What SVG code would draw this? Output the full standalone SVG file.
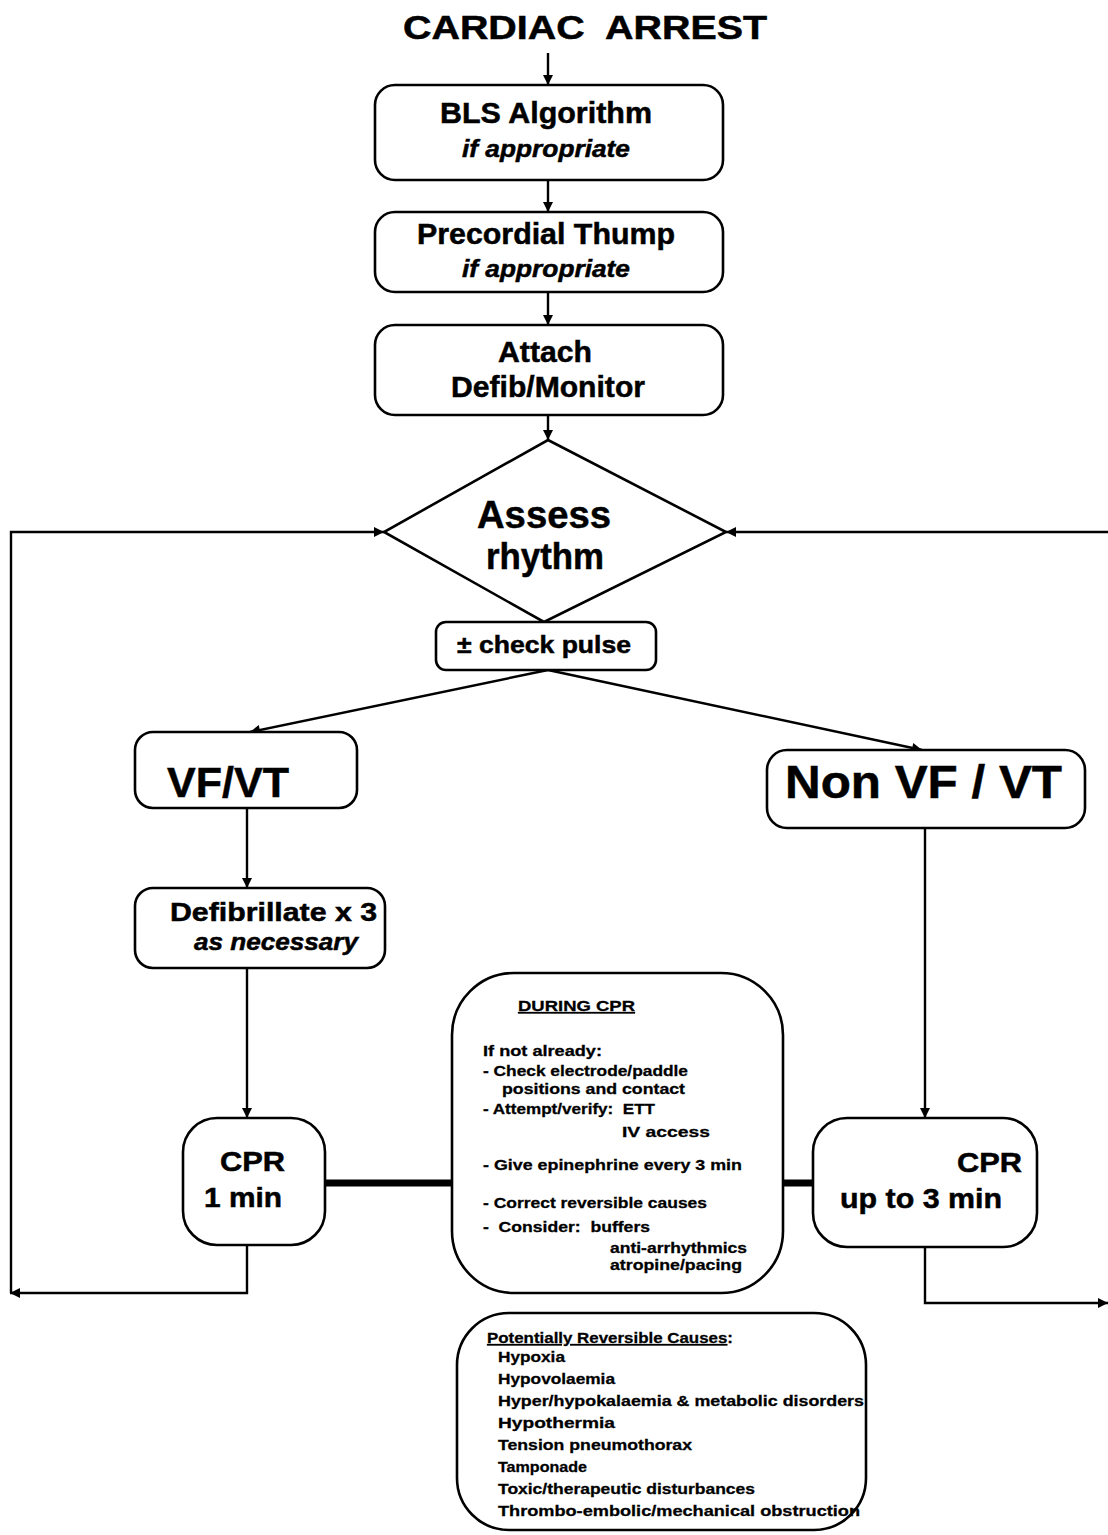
<svg xmlns="http://www.w3.org/2000/svg" width="1108" height="1535" viewBox="0 0 1108 1535" xml:space="preserve">
<style>
text { font-family: "Liberation Sans", Arial, sans-serif; font-weight: bold; fill: #000; stroke: #000; stroke-width: 0.5; white-space: pre; }
.it { font-style: italic; }
.box { fill: #fff; stroke: #000; stroke-width: 2.6; }
.ln { fill: none; stroke: #000; stroke-width: 2.4; }
.thick { fill: none; stroke: #000; stroke-width: 7; stroke-linecap: round; }
.s15 { font-size: 15.5px; stroke-width: 0.3; }
</style>
<defs>
<marker id="ah" viewBox="0 0 10 10" refX="10" refY="5" markerWidth="11" markerHeight="10" markerUnits="userSpaceOnUse" orient="auto">
<path d="M0,0 L10,5 L0,10 z" fill="#000"/>
</marker>
</defs>
<rect width="1108" height="1535" fill="#fff"/>

<g id="title"><text x="403" y="39" font-size="33" textLength="364" lengthAdjust="spacingAndGlyphs">CARDIAC  ARREST</text></g>

<g id="connectors">
<line class="ln" x1="548" y1="53" x2="548" y2="85" marker-end="url(#ah)"/>
<line class="ln" x1="548" y1="180" x2="548" y2="212" marker-end="url(#ah)"/>
<line class="ln" x1="548" y1="292" x2="548" y2="325" marker-end="url(#ah)"/>
<line class="ln" x1="548" y1="415" x2="548" y2="440" marker-end="url(#ah)"/>
<line class="ln" x1="548" y1="670" x2="250" y2="732" marker-end="url(#ah)"/>
<line class="ln" x1="548" y1="670" x2="922" y2="750" marker-end="url(#ah)"/>
<line class="ln" x1="247" y1="808" x2="247" y2="888" marker-end="url(#ah)"/>
<line class="ln" x1="247" y1="968" x2="247" y2="1118" marker-end="url(#ah)"/>
<line class="ln" x1="925" y1="828" x2="925" y2="1118" marker-end="url(#ah)"/>
<path class="ln" d="M247,1245 V1293 H10" marker-end="url(#ah)"/>
<path class="ln" d="M11,1293 V532 H384" marker-end="url(#ah)"/>
<path class="ln" d="M925,1247 V1303 H1108" marker-end="url(#ah)"/>
<line class="ln" x1="1108" y1="532" x2="726" y2="532" marker-end="url(#ah)"/>
<line class="thick" x1="324" y1="1183" x2="452" y2="1183"/>
<line class="thick" x1="781" y1="1183" x2="815" y2="1183"/>
</g>

<g id="bls">
<rect class="box" x="375" y="85" width="348" height="95" rx="20"/>
<text x="440" y="123" font-size="29" textLength="212" lengthAdjust="spacingAndGlyphs">BLS Algorithm</text>
<text class="it" x="462" y="157" font-size="24" textLength="168" lengthAdjust="spacingAndGlyphs">if appropriate</text>
</g>

<g id="thump">
<rect class="box" x="375" y="212" width="348" height="80" rx="20"/>
<text x="417" y="244" font-size="29" textLength="258" lengthAdjust="spacingAndGlyphs">Precordial Thump</text>
<text class="it" x="462" y="277" font-size="24" textLength="168" lengthAdjust="spacingAndGlyphs">if appropriate</text>
</g>

<g id="attach">
<rect class="box" x="375" y="325" width="348" height="90" rx="20"/>
<text x="498" y="362" font-size="30" textLength="94" lengthAdjust="spacingAndGlyphs">Attach</text>
<text x="451" y="397" font-size="30" textLength="194" lengthAdjust="spacingAndGlyphs">Defib/Monitor</text>
</g>

<g id="assess">
<polygon class="box" points="548,440 726,532 544,622 384,532"/>
<text x="477" y="528" font-size="39" textLength="134" lengthAdjust="spacingAndGlyphs">Assess</text>
<text x="486" y="569" font-size="37" textLength="118" lengthAdjust="spacingAndGlyphs">rhythm</text>
</g>

<g id="pulse">
<rect class="box" x="436" y="622" width="220" height="48" rx="10"/>
<text x="457" y="653" font-size="24" textLength="174" lengthAdjust="spacingAndGlyphs">± check pulse</text>
</g>

<g id="vfvt">
<rect class="box" x="135" y="732" width="222" height="76" rx="18"/>
<text x="167" y="797" font-size="43" textLength="122" lengthAdjust="spacingAndGlyphs">VF/VT</text>
</g>

<g id="nonvfvt">
<rect class="box" x="767" y="750" width="318" height="78" rx="20"/>
<text x="785" y="798" font-size="46" textLength="277" lengthAdjust="spacingAndGlyphs">Non VF / VT</text>
</g>

<g id="defib">
<rect class="box" x="135" y="888" width="250" height="80" rx="18"/>
<text x="170" y="921" font-size="26" textLength="207" lengthAdjust="spacingAndGlyphs">Defibrillate x 3</text>
<text class="it" x="194" y="950" font-size="24" textLength="164" lengthAdjust="spacingAndGlyphs">as necessary</text>
</g>

<g id="cpr1">
<rect class="box" x="183" y="1118" width="142" height="127" rx="34"/>
<text x="220" y="1171" font-size="28" textLength="65" lengthAdjust="spacingAndGlyphs">CPR</text>
<text x="204" y="1207" font-size="28" textLength="78" lengthAdjust="spacingAndGlyphs">1 min</text>
</g>

<g id="during">
<rect class="box" x="452" y="973" width="331" height="320" rx="62"/>
<text class="s15" x="518" y="1011" textLength="117" lengthAdjust="spacingAndGlyphs" text-decoration="underline">DURING CPR</text>
<text class="s15" x="483" y="1056" textLength="119" lengthAdjust="spacingAndGlyphs">If not already:</text>
<text class="s15" x="483" y="1076" textLength="205" lengthAdjust="spacingAndGlyphs">- Check electrode/paddle</text>
<text class="s15" x="502" y="1094" textLength="183" lengthAdjust="spacingAndGlyphs">positions and contact</text>
<text class="s15" x="483" y="1114" textLength="172" lengthAdjust="spacingAndGlyphs">- Attempt/verify:  ETT</text>
<text class="s15" x="622" y="1137" textLength="88" lengthAdjust="spacingAndGlyphs">IV access</text>
<text class="s15" x="483" y="1170" textLength="259" lengthAdjust="spacingAndGlyphs">- Give epinephrine every 3 min</text>
<text class="s15" x="483" y="1208" textLength="224" lengthAdjust="spacingAndGlyphs">- Correct reversible causes</text>
<text class="s15" x="483" y="1232" textLength="167" lengthAdjust="spacingAndGlyphs">-  Consider:  buffers</text>
<text class="s15" x="610" y="1253" textLength="137" lengthAdjust="spacingAndGlyphs">anti-arrhythmics</text>
<text class="s15" x="610" y="1270" textLength="132" lengthAdjust="spacingAndGlyphs">atropine/pacing</text>
</g>

<g id="cpr3">
<rect class="box" x="813" y="1118" width="224" height="129" rx="34"/>
<text x="957" y="1172" font-size="28" textLength="65" lengthAdjust="spacingAndGlyphs">CPR</text>
<text x="840" y="1208" font-size="28" textLength="162" lengthAdjust="spacingAndGlyphs">up to 3 min</text>
</g>

<g id="causes">
<rect class="box" x="457" y="1313" width="409" height="217" rx="52"/>
<text class="s15" x="487" y="1343" textLength="246" lengthAdjust="spacingAndGlyphs"><tspan text-decoration="underline">Potentially Reversible Causes</tspan>:</text>
<text class="s15" x="498" y="1362" textLength="67" lengthAdjust="spacingAndGlyphs">Hypoxia</text>
<text class="s15" x="498" y="1384" textLength="117" lengthAdjust="spacingAndGlyphs">Hypovolaemia</text>
<text class="s15" x="498" y="1406" textLength="366" lengthAdjust="spacingAndGlyphs">Hyper/hypokalaemia &amp; metabolic disorders</text>
<text class="s15" x="498" y="1428" textLength="117" lengthAdjust="spacingAndGlyphs">Hypothermia</text>
<text class="s15" x="498" y="1450" textLength="194" lengthAdjust="spacingAndGlyphs">Tension pneumothorax</text>
<text class="s15" x="498" y="1472" textLength="89" lengthAdjust="spacingAndGlyphs">Tamponade</text>
<text class="s15" x="498" y="1494" textLength="257" lengthAdjust="spacingAndGlyphs">Toxic/therapeutic disturbances</text>
<text class="s15" x="498" y="1516" textLength="362" lengthAdjust="spacingAndGlyphs">Thrombo-embolic/mechanical obstruction</text>
</g>
</svg>
